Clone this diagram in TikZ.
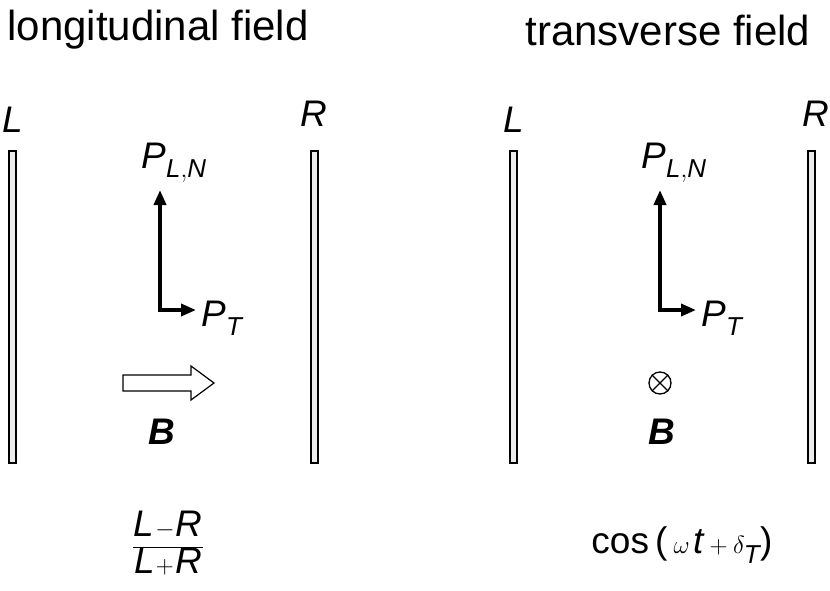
\documentclass[tikz,border=0pt]{standalone}
\usepackage{fontspec}
\setmainfont{Liberation Sans}
\usetikzlibrary{arrows.meta}
\begin{document}
\begin{tikzpicture}[x=1pt,y=-1pt,
  plate/.style={draw=black,fill=gray!15,line width=1.3pt},
  vec/.style={line width=3.6pt,-{Triangle[length=15pt,width=12pt]}},
  lbl/.style={font=\fontsize{37}{42}\selectfont\itshape},
  ttl/.style={font=\fontsize{42}{48}\selectfont}]
\useasboundingbox (0,0) rectangle (830,590);
% titles
\node[ttl] (t1) at (158,30) {longitudinal field};
\node[ttl] (t2) at (668,30) {transverse field};
% plates
\draw[plate] (9,151) rectangle (16,463);
\draw[plate] (311,151) rectangle (318,463);
\draw[plate] (510,151) rectangle (517,463);
\draw[plate] (808,151) rectangle (815,463);
\node[lbl] (L1) at (13,120) {L};
\node[lbl] (R1) at (314,114) {R};
\node[lbl] (L2) at (514,120) {L};
\node[lbl] (R2) at (816,114) {R};
% left vectors
\coordinate (o1) at (160,310);
\coordinate (u1) at (160,190);
\coordinate (r1) at (196,310);
\draw[vec] (o1) -- (u1);
\draw[vec] ([xshift=-1.8pt]o1) -- (r1);
\node[lbl] (pl1) at (174,163) {P$_{\mathit{L,N}}$};
\node[lbl,anchor=west] (pt1) at (198,318) {P$_{\mathit{T}}$};
% right vectors
\coordinate (o2) at (660,310);
\coordinate (u2) at (660,190);
\coordinate (r2) at (696,310);
\draw[vec] (o2) -- (u2);
\draw[vec] ([xshift=-1.8pt]o2) -- (r2);
\node[lbl] (pl2) at (674,163) {P$_{\mathit{L,N}}$};
\node[lbl,anchor=west] (pt2) at (698,318) {P$_{\mathit{T}}$};
% hollow arrow
\draw[line width=1.2pt,fill=white] (123,375) -- (191,375) -- (191,366) -- (214,383) -- (191,400) -- (191,391) -- (123,391) -- cycle;
\node[lbl,font=\fontsize{37}{42}\selectfont\bfseries\itshape] (B1) at (162,432) {B};
% otimes
\node[draw,circle,line width=1.3pt,minimum size=22pt,inner sep=0pt] (ot) at (660,383) {};
\draw[line width=1.3pt] (ot.north west) -- (ot.south east) (ot.north east) -- (ot.south west);
\node[lbl,font=\fontsize{37}{42}\selectfont\bfseries\itshape] (B2) at (662,432) {B};
% formulas
\node[font=\fontsize{37}{42}\selectfont] (f1) at (168,543) {$\displaystyle\frac{\mathit{L}\!-\!\mathit{R}}{\mathit{L}\!+\!\mathit{R}}$};
\node[font=\fontsize{37}{42}\selectfont] (f2) at (682,545) {cos\,(\,$\omega\,\mathit{t}+\delta_{\mathit{T}}$)};
\end{tikzpicture}
\end{document}
